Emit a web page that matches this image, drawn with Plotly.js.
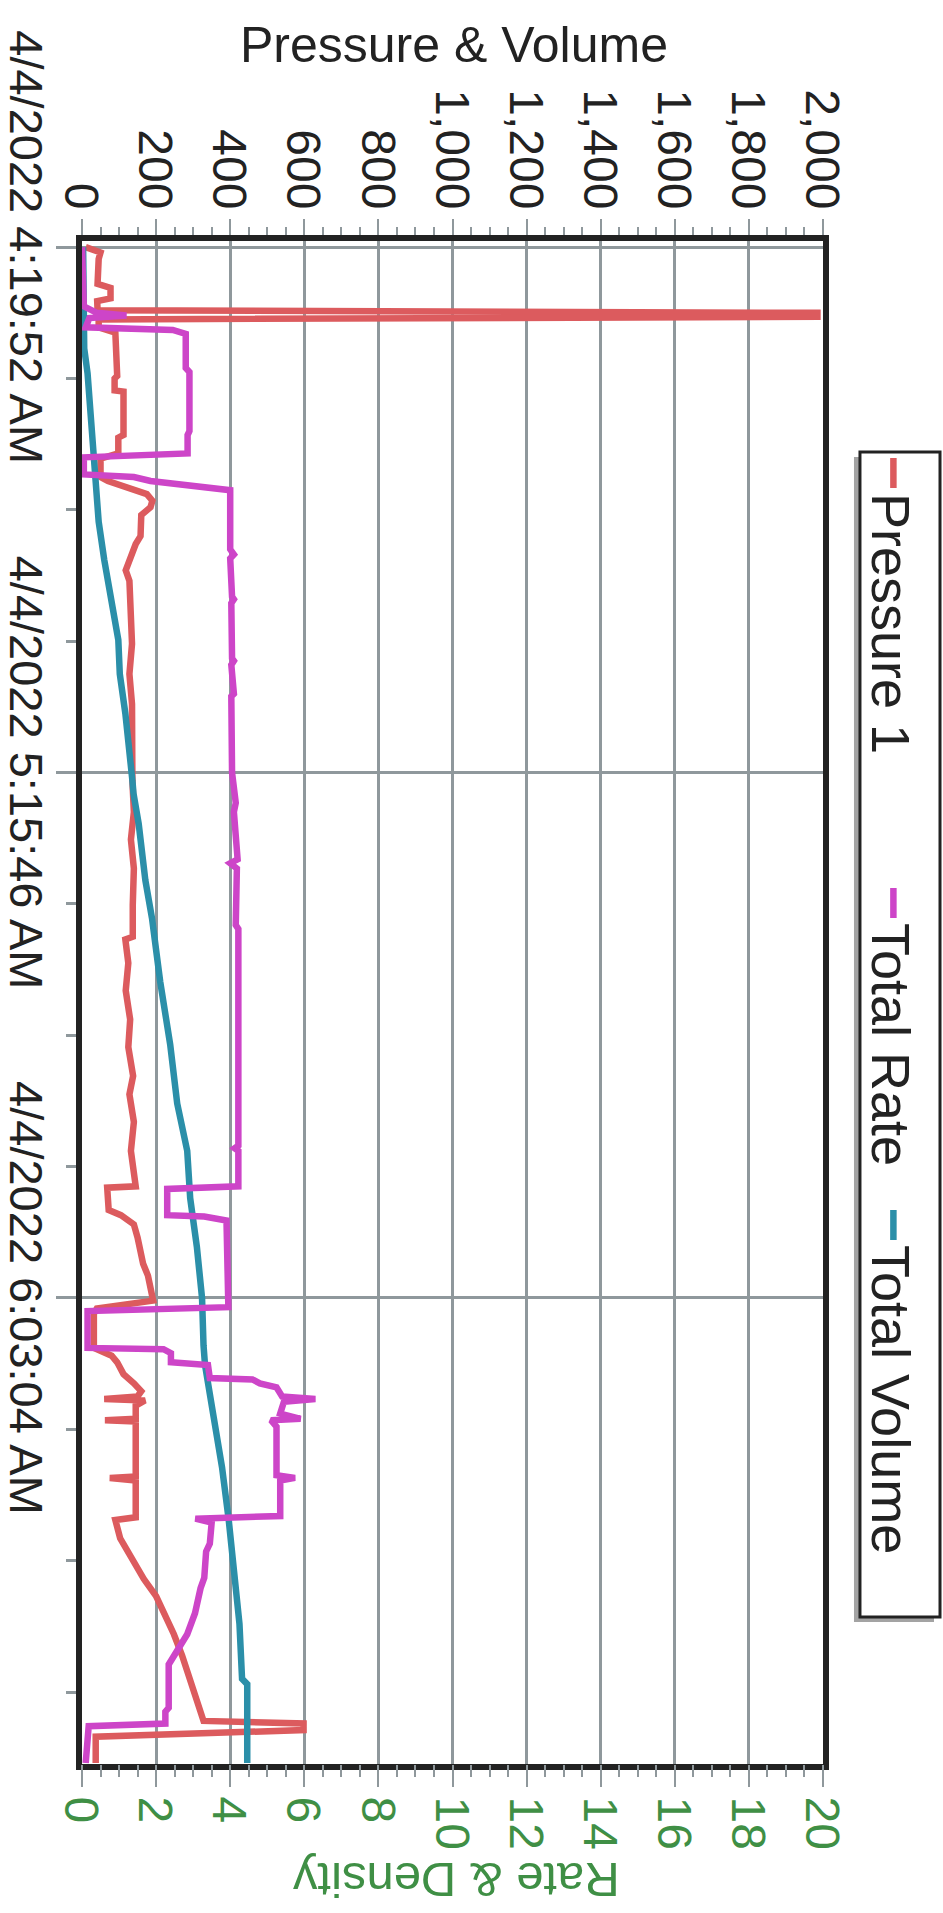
<!DOCTYPE html>
<html>
<head>
<meta charset="utf-8">
<script src="https://cdn.plot.ly/plotly-3.0.1.min.js"></script>
<style>
  html, body { margin: 0; padding: 0; background: #ffffff; overflow: hidden; }
  body { width: 943px; height: 1913px; position: relative; }
  /* The chart is laid out landscape and turned a quarter clockwise onto the portrait page. */
  #chart {
    position: absolute; left: 0; top: 0;
    width: 1913px; height: 943px;
    transform-origin: 0 0;
    transform: translate(943px, 0) rotate(90deg);
  }
</style>
</head>
<body>
<div id="chart"></div>
<script>
// Sample positions along the time axis (one unit per logged sample)
const sampleTicks = [0, 40, 80];
const sampleTickLabels = ['4/4/2022 4:19:52 AM', '4/4/2022 5:15:46 AM', '4/4/2022 6:03:04 AM'];

const seriesNames = ['Pressure 1', 'Total Rate', 'Total Volume'];

// Pressure 1 (left axis)
const pressureSample = [0.0, 0.4, 0.9, 2.8, 3.1, 3.9, 4.1, 4.8, 5.0, 5.3, 5.5, 6.1, 6.5, 9.8, 10.0, 10.9, 11.0, 14.3, 14.5, 15.7, 16.1,
  17.5, 17.8, 18.3, 18.8, 19.3, 19.8, 20.4, 21.0, 22.0, 22.6, 24.6, 25.4, 27.8, 30.2, 32.5, 34.8, 40.6, 43.0, 45.1, 47.3,
  50.1, 52.5, 52.7, 54.5, 56.6, 58.8, 60.9, 63.1, 64.5, 66.6, 68.8, 71.0, 71.5, 71.6, 73.3, 73.7, 74.4, 75.4, 76.3, 77.4,
  78.3, 79.4, 80.2, 80.8, 81.2, 83.8, 84.1, 84.4, 84.9, 85.8, 86.5, 87.1, 87.5, 87.7, 87.8, 88.2, 89.2, 89.3, 89.4, 93.6,
  93.7, 93.9, 96.7, 96.9, 98.3, 100.1, 101.4, 102.7, 104.3, 105.6, 107.2, 109.0, 111.0, 112.2, 112.4, 112.9, 113.4, 115.4];
const pressure1 = [10, 50, 45, 42, 77, 77, 41, 42, 1985, 1985, 45, 45, 90, 95, 88, 88, 112, 112, 98, 98, 50,
  50, 70, 130, 175, 190, 185, 160, 160, 158, 145, 118, 128, 130, 135, 128, 135, 136, 140, 132, 140,
  137, 137, 117, 125, 118, 130, 125, 138, 128, 140, 132, 145, 145, 68, 72, 105, 140, 150, 158, 165,
  178, 185, 192, 40, 32, 32, 55, 80, 95, 112, 140, 160, 150, 60, 170, 145, 145, 62, 145, 145,
  75, 145, 145, 90, 103, 140, 167, 200, 228, 248, 270, 292, 312, 328, 598, 598, 37, 37];

// Total Rate (right axis)
const rateSample = [0.0, 4.5, 5.0, 5.2, 5.4, 6.1, 6.3, 6.6, 9.2, 9.5, 14.0, 14.3, 15.7, 16.0, 17.3, 17.5, 17.8, 18.2, 18.5, 23.0,
  23.4, 23.7, 26.6, 26.8, 27.1, 31.3, 31.5, 31.8, 34.0, 34.2, 40.0, 42.3, 43.0, 46.6, 46.9, 47.3, 51.6, 51.9, 68.4, 68.6,
  68.8, 71.5, 71.7, 73.7, 73.8, 74.1, 80.7, 81.0, 83.8, 83.9, 84.2, 84.9, 85.1, 86.1, 86.2, 86.5, 86.8, 87.5, 87.7, 87.9,
  88.8, 89.2, 89.3, 89.8, 93.5, 93.7, 93.9, 96.6, 96.8, 97.1, 98.7, 99.3, 101.3, 102.1, 104.0, 105.6, 107.2, 107.9, 111.2, 111.5,
  112.4, 112.6, 115.4];
const totalRate = [0, 0.05, 0.4, 1.2, 0.2, 0.1, 2.45, 2.8, 2.8, 2.9, 2.9, 2.85, 2.85, 0.05, 0.05, 1.4, 1.85, 3.2, 4.0, 4.0,
  4.1, 4.0, 4.05, 4.1, 4.03, 4.05, 4.1, 4.03, 4.1, 4.03, 4.05, 4.15, 4.1, 4.2, 4.0, 4.18, 4.15, 4.22, 4.22, 4.12,
  4.22, 4.22, 2.3, 2.3, 3.3, 3.9, 3.95, 0.15, 0.15, 2.2, 2.4, 2.4, 3.4, 3.45, 4.6, 4.8, 5.25, 5.4, 6.3, 5.45,
  5.35, 5.9, 5.1, 5.25, 5.25, 5.75, 5.35, 5.35, 3.06, 3.5, 3.45, 3.35, 3.3, 3.2, 3.05, 2.84, 2.47, 2.34, 2.34, 2.25,
  2.25, 0.18, 0.1];

// Total Volume (left axis)
const volumeSample = [0.0, 7.7, 9.6, 12.5, 16.9, 20.9, 23.8, 26.4, 29.9, 32.5, 35.5, 40.6, 41.6, 43.9, 48.2, 51.1, 55.9, 60.7, 65.2, 68.8,
  72.4, 76.1, 80.0, 83.6, 85.1, 89.0, 92.9, 96.9, 100.9, 102.5, 104.8, 109.0, 109.4, 115.4];
const totalVolume = [3, 6, 15, 23, 31, 45, 60, 77, 98, 102, 117, 136, 139, 153, 171, 189, 211, 238, 257, 284,
  292, 310, 324, 328, 332, 355, 378, 396, 410, 414, 425, 432, 446, 446];

const FONT = 'Liberation Sans, Arial, sans-serif';
const INK = '#222222';
const GREEN = '#3f8f45';
const GRID = '#8f989c';
const colors = ['#dc5b5e', '#cd45c8', '#2b8fa9'];

const traces = [
  { x: pressureSample, y: pressure1, name: seriesNames[0], yaxis: 'y', legend: 'legend',
    type: 'scatter', mode: 'lines', line: { color: colors[0], width: 6.5 } },
  { x: rateSample, y: totalRate, name: seriesNames[1], yaxis: 'y2', legend: 'legend2',
    type: 'scatter', mode: 'lines', line: { color: colors[1], width: 6.5 } },
  { x: volumeSample, y: totalVolume, name: seriesNames[2], yaxis: 'y', legend: 'legend3',
    type: 'scatter', mode: 'lines', line: { color: colors[2], width: 6.5 } }
];

// one legend entry per box slot along the top strip
function legendAt(left) {
  return {
    orientation: 'h', xref: 'container', yref: 'container',
    x: left / 1913, xanchor: 'left', y: 1 - 50 / 943, yanchor: 'middle',
    bgcolor: 'rgba(0,0,0,0)', borderwidth: 0,
    font: { family: FONT, size: 54, color: INK }, itemwidth: 30
  };
}

const layout = {
  width: 1913, height: 943,
  margin: { l: 241, r: 149, t: 120, b: 82 },
  paper_bgcolor: '#ffffff', plot_bgcolor: '#ffffff',
  font: { family: FONT, size: 48, color: INK },
  showlegend: true,
  legend: legendAt(453),
  legend2: legendAt(883),
  legend3: legendAt(1205),
  xaxis: {
    range: [-0.47, 115.48],
    tickmode: 'array', tickvals: sampleTicks, ticktext: sampleTickLabels,
    ticks: 'outside', ticklen: 20, tickwidth: 3, tickcolor: GRID,
    ticklabelstandoff: -10,
    tickfont: { family: FONT, size: 47, color: INK },
    minor: { tickmode: 'linear', tick0: 0, dtick: 10, ticks: 'outside', ticklen: 10, tickwidth: 3, tickcolor: GRID, showgrid: false },
    showgrid: true, gridcolor: GRID, gridwidth: 3,
    showline: true, linecolor: INK, linewidth: 6, mirror: true,
    zeroline: false
  },
  yaxis: {
    range: [0, 2000], dtick: 200, tickformat: ',d',
    ticks: 'outside', ticklen: 16, tickwidth: 2, tickcolor: GRID,
    tickfont: { family: FONT, size: 48, color: INK },
    minor: { dtick: 50, ticks: 'outside', ticklen: 8, tickwidth: 2, tickcolor: GRID, showgrid: false },
    showgrid: true, gridcolor: GRID, gridwidth: 3,
    showline: true, linecolor: INK, linewidth: 6, mirror: true,
    zeroline: false
  },
  yaxis2: {
    range: [0, 20], dtick: 2, overlaying: 'y', side: 'right', anchor: 'x',
    ticks: 'outside', ticklen: 22, tickwidth: 2, tickcolor: GRID,
    tickfont: { family: FONT, size: 48, color: GREEN },
    minor: { dtick: 0.5, ticks: 'outside', ticklen: 12, tickwidth: 2, tickcolor: GRID, showgrid: false },
    showgrid: false, showline: false, zeroline: false
  },
  annotations: [
    { text: 'Pressure & Volume', xref: 'paper', yref: 'paper', x: -0.1287, y: 0.502,
      xanchor: 'center', yanchor: 'middle', textangle: -90, showarrow: false,
      font: { family: FONT, size: 50, color: INK } },
    { text: 'Rate & Density', xref: 'paper', yref: 'paper', x: 1.0765, y: 0.505,
      xanchor: 'center', yanchor: 'middle', textangle: 90, showarrow: false,
      font: { family: FONT, size: 49, color: GREEN } }
  ],
  shapes: [
    // legend frame with its drop shadow
    { type: 'rect', xref: 'paper', yref: 'paper', layer: 'above',
      x0: 0.1418, x1: 0.9068, y0: 1.0418, y1: 1.1498,
      fillcolor: '#a3a3a3', line: { width: 0 } },
    { type: 'rect', xref: 'paper', yref: 'paper', layer: 'above',
      x0: 0.1385, x1: 0.9035, y0: 1.0499, y1: 1.1579,
      fillcolor: '#ffffff', line: { color: INK, width: 3 } }
  ]
};

Plotly.newPlot('chart', traces, layout, { staticPlot: true, displayModeBar: false });
</script>
</body>
</html>
